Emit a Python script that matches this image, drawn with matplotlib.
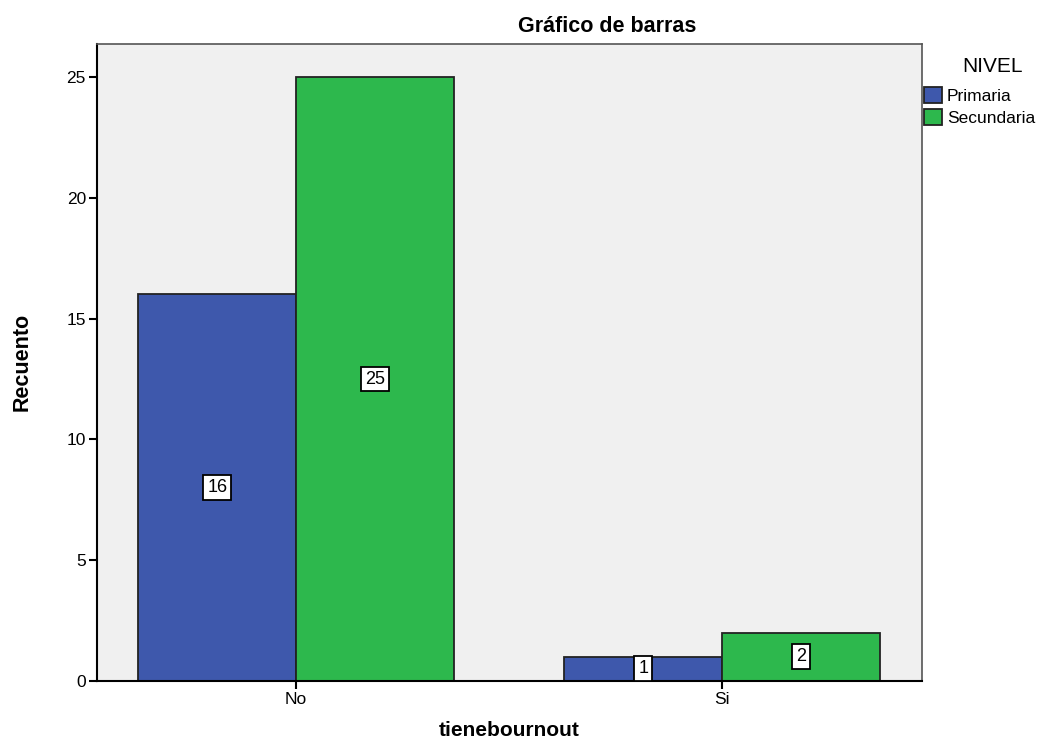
import matplotlib
matplotlib.use("Agg")
import matplotlib.pyplot as plt
import numpy as np
from matplotlib.patches import Patch

categories = ["No", "Si"]
series_names = ["Primaria", "Secundaria"]
primaria = [16, 1]
secundaria = [25, 2]
yticks = [0, 5, 10, 15, 20, 25]

colors = ["#3e58ac", "#2db84d"]
FONT = "Liberation Sans"

fig = plt.figure(figsize=(10.64, 7.49), dpi=100)
ax = fig.add_axes([0.0912, 0.0908, 0.7753, 0.8505])
ax.set_facecolor("#f0f0f0")

x = np.arange(len(categories))
w = 0.37
for vals, off, c in [(primaria, -w / 2, colors[0]), (secundaria, w / 2, colors[1])]:
    bars = ax.bar(x + off, vals, w, color=c, edgecolor="#222222", linewidth=1.3, zorder=2)
    for b, v in zip(bars, vals):
        ax.text(b.get_x() + b.get_width() / 2, v / 2, str(v), ha="center", va="center",
                fontsize=13, family=FONT, zorder=5,
                bbox=dict(boxstyle="square,pad=0.22", facecolor="white", edgecolor="black", linewidth=1.3))

ax.set_xlim(-0.467, 1.469)
ax.set_ylim(0, 26.37)
ax.set_xticks(x)
ax.set_xticklabels(categories, family=FONT, fontsize=12.5)
ax.set_yticks(yticks)
ax.set_yticklabels([str(t) for t in yticks], family=FONT, fontsize=12.5)
ax.tick_params(axis="both", length=6, width=1.5, color="black", pad=2)

for s in ["left", "bottom"]:
    ax.spines[s].set_color("black")
    ax.spines[s].set_linewidth(1.5)
for s in ["top", "right"]:
    ax.spines[s].set_color("#555555")
    ax.spines[s].set_linewidth(1.2)

fig.text(0.571, 0.965, "Gráfico de barras", ha="center", va="center", fontsize=15.5,
         fontweight="bold", family=FONT)
fig.text(0.021, 0.517, "Recuento", rotation=90, ha="center", va="center", fontsize=15.5,
         fontweight="bold", family=FONT)
fig.text(0.479, 0.012, "tienebournout", ha="center", va="bottom", fontsize=15,
         fontweight="bold", family=FONT)

fig.text(0.933, 1 - 67 / 749, "NIVEL", ha="center", va="center", fontsize=15, family=FONT)
handles = [Patch(facecolor=c, edgecolor="#222222", linewidth=1.3) for c in colors]
leg = fig.legend(handles, series_names, loc="upper left", bbox_to_anchor=(0.868, 1 - 87 / 749),
                 frameon=False, handlelength=1.05, handleheight=1.05,
                 handletextpad=0.3, labelspacing=0.3, borderaxespad=0, borderpad=0,
                 prop={"family": FONT, "size": 12.5})

fig.savefig("out.png", dpi=100)
